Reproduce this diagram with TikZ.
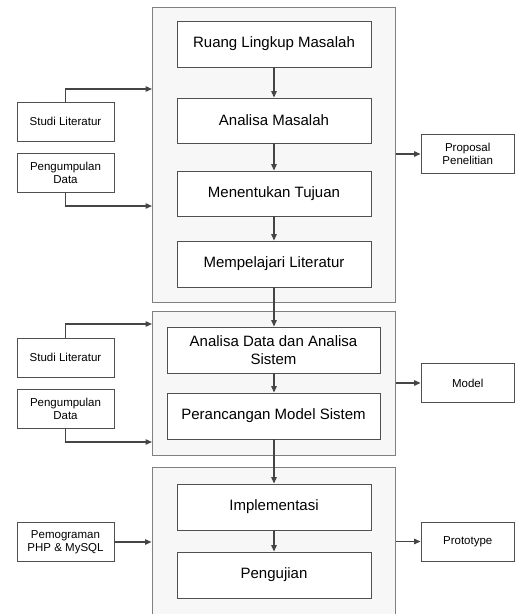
\documentclass[tikz,border=0pt]{standalone}
\usepackage{fontspec}
\setmainfont{Liberation Sans}
\usetikzlibrary{arrows.meta}
\definecolor{outerfill}{HTML}{F7F7F7}
\definecolor{outerline}{HTML}{808080}
\definecolor{innerline}{HTML}{505050}
\definecolor{arrowcol}{HTML}{454545}
\tikzset{
  outerbox/.style={draw=outerline, fill=outerfill, line width=1pt, inner sep=0pt},
  mainbox/.style={draw=innerline, fill=white, line width=0.9pt, minimum width=194pt, minimum height=46pt, align=center, inner sep=2pt, font=\fontsize{15}{17.7}\selectfont},
  sidebox/.style={draw=innerline, fill=white, line width=0.9pt, minimum width=97pt, minimum height=39pt, align=center, inner sep=2pt, font=\fontsize{11.5}{13}\selectfont},
  outbox/.style={sidebox, minimum width=93.5pt},
  arr/.style={draw=arrowcol, line width=1.3pt, -{Triangle[length=6.5pt,width=5.5pt]}}
}
\begin{document}
\begin{tikzpicture}[x=1pt,y=-1pt]
\useasboundingbox (0,0) rectangle (515,614);
% outer boxes
\node[outerbox, minimum width=243pt, minimum height=295pt] (box1) at (273.5,154.5) {};
\node[outerbox, minimum width=243pt, minimum height=144pt] (box2) at (273.5,383) {};
\node[outerbox, minimum width=243pt, minimum height=160pt] (box3) at (273.5,547) {};
% inner boxes
\node[mainbox] (rl) at (274,44) {Ruang Lingkup Masalah};
\node[mainbox, minimum height=45pt] (am) at (274,120.5) {Analisa Masalah};
\node[mainbox, minimum height=45pt] (mt) at (274,193.5) {Menentukan Tujuan};
\node[mainbox] (ml) at (274,264) {Mempelajari Literatur};
\node[mainbox, minimum width=213pt] (ad) at (273.5,350) {Analisa Data dan Analisa\\Sistem};
\node[mainbox, minimum width=213pt] (pm) at (273.5,416) {Perancangan Model Sistem};
\node[mainbox] (im) at (274,507) {Implementasi};
\node[mainbox] (pg) at (274,575) {Pengujian};
% side boxes
\node[sidebox] (s1) at (65.5,121.5) {Studi Literatur};
\node[sidebox] (p1) at (65.5,172.5) {Pengumpulan\\Data};
\node[sidebox] (s2) at (65.5,357.5) {Studi Literatur};
\node[sidebox] (p2) at (65.5,408.5) {Pengumpulan\\Data};
\node[sidebox] (php) at (65.5,542) {Pemograman\\PHP \& MySQL};
% output boxes
\node[outbox] (prop) at (467.75,154) {Proposal\\Penelitian};
\node[outbox] (mod) at (467.75,383) {Model};
\node[outbox] (proto) at (467.75,541.5) {Prototype};
% coordinates on outer boxes
\coordinate (in1a) at (152,89);
\coordinate (in1b) at (152,206);
\coordinate (in2a) at (152,324);
\coordinate (in2b) at (152,442);
% vertical flow
\draw[arr] (rl) -- (am);
\draw[arr] (am) -- (mt);
\draw[arr] (mt) -- (ml);
\draw[arr] (ml.south) -- (ml.south |- ad.north);
\draw[arr] (ad.south -| ml.south) -- (pm.north -| ml.south);
\draw[arr] (pm.south -| ml.south) -- (im.north);
\draw[arr] (im) -- (pg);
% inputs
\draw[arr] (s1.north) |- (in1a);
\draw[arr] (p1.south) |- (in1b);
\draw[arr] (s2.north) |- (in2a);
\draw[arr] (p2.south) |- (in2b);
\draw[arr] (php.east) -- (php.east -| box3.west);
% outputs
\draw[arr] (box1.east |- prop.west) -- (prop.west);
\draw[arr] (box2.east |- mod.west) -- (mod.west);
\draw[arr] (box3.east |- proto.west) -- (proto.west);
\end{tikzpicture}
\end{document}
